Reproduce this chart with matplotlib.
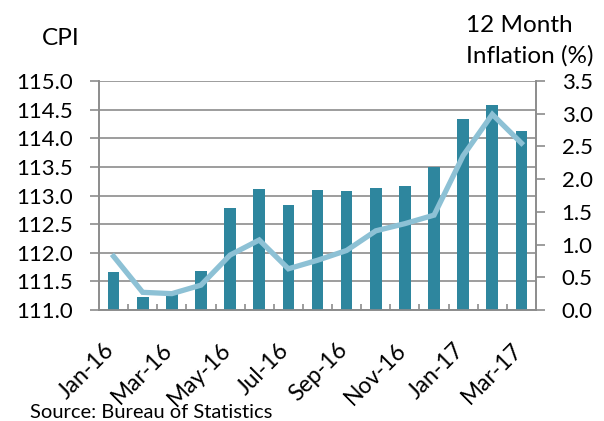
import numpy as np
import matplotlib.pyplot as plt
import matplotlib.transforms as mtransforms
from matplotlib.ticker import FixedLocator

plt.rcParams['font.family'] = ['Lato', 'DejaVu Sans']

# data
months = ['Jan-16', 'Feb-16', 'Mar-16', 'Apr-16', 'May-16', 'Jun-16', 'Jul-16', 'Aug-16',
          'Sep-16', 'Oct-16', 'Nov-16', 'Dec-16', 'Jan-17', 'Feb-17', 'Mar-17']
cpi = [111.67, 111.23, 111.28, 111.68, 112.79, 113.12, 112.84, 113.09,
       113.08, 113.13, 113.17, 113.49, 114.33, 114.58, 114.12]
inflation = [0.82, 0.27, 0.25, 0.38, 0.84, 1.07, 0.63, 0.76,
             0.91, 1.21, 1.32, 1.45, 2.36, 2.99, 2.55]
left_ticks = [111.0, 111.5, 112.0, 112.5, 113.0, 113.5, 114.0, 114.5, 115.0]
right_ticks = [0.0, 0.5, 1.0, 1.5, 2.0, 2.5, 3.0, 3.5]

bar_col = '#2e869e'
line_col = '#8dc1d5'
grid_col = '#8c8c8c'

W, H = 604, 421
fig = plt.figure(figsize=(W / 100, H / 100), dpi=100)
ax = fig.add_axes([99 / W, 1 - 310 / H, 437 / W, 229 / H])
x = np.arange(len(months))

ax.bar(x, np.array(cpi) - 111.0, bottom=111.0, width=0.4, color=bar_col, zorder=3)
ax.set_ylim(111.0, 115.0)
ax.set_xlim(-0.5, len(months) - 0.5)
ax.set_yticks(left_ticks)
ax.set_yticklabels([f'{v:.1f}' for v in left_ticks])
ax.grid(axis='y', color=grid_col, linewidth=1.2, zorder=0)

ax2 = ax.twinx()
ax2.plot(x, inflation, color=line_col, linewidth=3.8, solid_joinstyle='miter', zorder=4)
ax2.set_ylim(0, 3.5)
ax2.set_yticks(right_ticks)
ax2.set_yticklabels([f'{v:.1f}' for v in right_ticks])

for a in (ax, ax2):
    a.spines['top'].set_visible(False)
    for s in ('left', 'right', 'bottom'):
        a.spines[s].set_color(grid_col)
        a.spines[s].set_linewidth(1.2)
    a.tick_params(axis='y', labelsize=16, length=6.5, width=1.2, color=grid_col, pad=12)

ax.set_xticks(x[::2])
ax.set_xticklabels(months[::2], rotation=45, ha='right', va='top')
ax.xaxis.set_minor_locator(FixedLocator(np.arange(0.5, len(months) - 1, 1)))
ax.tick_params(axis='x', which='major', length=0, labelsize=16.5, pad=21)
ax.tick_params(axis='x', which='minor', direction='in', length=4.5, width=1.2, color=grid_col)
shift = mtransforms.ScaledTranslation(5 / 100, 0, fig.dpi_scale_trans)
for lbl in ax.get_xticklabels():
    lbl.set_transform(lbl.get_transform() + shift)

fig.text(42 / W, 1 - 45 / H, 'CPI', fontsize=17.6, ha='left', va='baseline')
fig.text(466 / W, 1 - 32 / H, '12 Month', fontsize=17.5, ha='left', va='baseline')
fig.text(466 / W, 1 - 63 / H, 'Inflation (%)', fontsize=17.5, ha='left', va='baseline')
fig.text(30 / W, 1 - 418 / H, 'Source: Bureau of Statistics', fontsize=14.5, ha='left', va='baseline')

fig.savefig('out.png', dpi=100)
